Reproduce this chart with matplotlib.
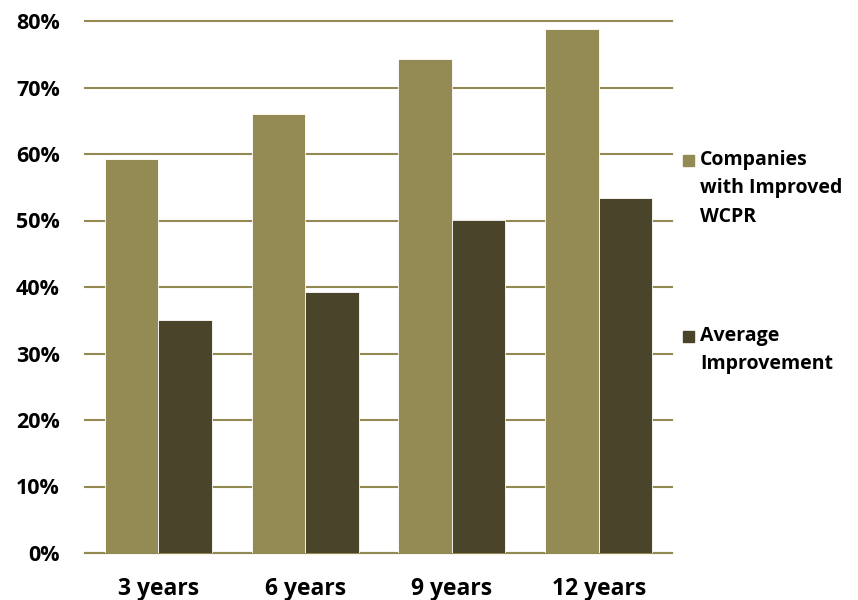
import numpy as np
import matplotlib
matplotlib.use("Agg")
from matplotlib import pyplot as plt
from matplotlib.patches import Rectangle

categories = ["3 years", "6 years", "9 years", "12 years"]
companies_improved = [59.2, 66.0, 74.3, 78.8]
average_improvement = [35.1, 39.2, 50.1, 53.4]
series_names = ["Companies\nwith Improved\nWCPR", "Average\nImprovement"]
colors = ["#948A54", "#4A452A"]

plt.rcParams['font.family'] = ['Open Sans', 'DejaVu Sans']
plt.rcParams['font.weight'] = 'bold'

fig = plt.figure(figsize=(8.58, 6), dpi=100)
W, H = 858, 600
ax = fig.add_axes([85 / W, 1 - 553 / H, (672 - 85) / W, (553 - 21) / H])

x = np.arange(len(categories))
w = 0.365
ax.bar(x - w / 2, companies_improved, w, color=colors[0], edgecolor="white", linewidth=0.6, zorder=3)
ax.bar(x + w / 2, average_improvement, w, color=colors[1], edgecolor="white", linewidth=0.6, zorder=3)

ax.set_xlim(-0.5, len(categories) - 0.5)
ax.set_ylim(0, 80)
ax.set_yticks(np.arange(0, 81, 10))
ax.set_yticklabels([f"{v}%" for v in range(0, 81, 10)])
ax.set_xticks(x)
ax.set_xticklabels(categories)
ax.yaxis.grid(True, color="#938953", linewidth=1.5, zorder=0)
for gl in ax.get_ygridlines():
    gl.set_clip_on(False)
ax.set_axisbelow(True)
for s in ["top", "right", "left"]:
    ax.spines[s].set_visible(False)
ax.spines["bottom"].set_color("#938953")
ax.spines["bottom"].set_linewidth(1.5)
ax.tick_params(axis="y", length=0, labelsize=15.5, pad=18)
ax.tick_params(axis="x", length=0, labelsize=16.5, pad=17)
for lbl in ax.get_xticklabels() + ax.get_yticklabels():
    lbl.set_fontweight("bold")

# legend drawn by hand to keep the swatch on the first text line
legend_y = [160, 336]
for name, col, ly in zip(series_names, colors, legend_y):
    fig.patches.append(Rectangle((683 / W, 1 - (ly + 6) / H), 11 / W, 11 / H,
                                 transform=fig.transFigure, color=col))
    fig.text(700 / W, 1 - (ly - 10) / H, name, ha="left", va="top",
             fontsize=14, fontweight="bold", linespacing=1.55)

fig.savefig("out.png", dpi=100)
